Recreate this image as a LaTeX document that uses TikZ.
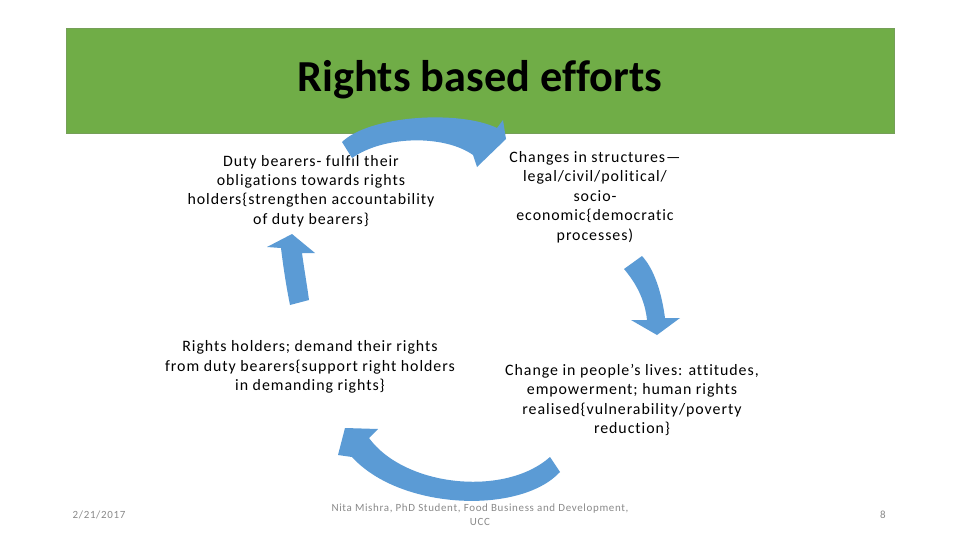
\documentclass[tikz,border=0pt]{standalone}
\usepackage{fontspec}
\setmainfont{Carlito}[Ligatures=NoCommon]
\newfontfamily\spacedfont{Carlito}[Ligatures=NoCommon, LetterSpace=6]
\usepackage{tikz}
\definecolor{bargreen}{HTML}{70AD47}
\definecolor{arrowblue}{HTML}{5B9BD5}
\definecolor{footgray}{HTML}{898989}
\tikzset{
  boxtext/.style={align=center, inner sep=0pt, font=\spacedfont\fontsize{11.3}{13.8}\selectfont},
  foottext/.style={align=center, inner sep=0pt, text=footgray, font=\spacedfont\fontsize{7.8}{10}\selectfont},
  cyclearrow/.style={fill=arrowblue, draw=none}
}
\begin{document}
\begin{tikzpicture}[x=0.025cm,y=-0.025cm]
  \useasboundingbox (0,0) rectangle (960,540);
  % title banner
  \fill[bargreen, draw=bargreen!70!gray, line width=0.6pt] (66,28) rectangle (894,133);
  \node[inner sep=0pt, font=\fontsize{31.5}{36}\selectfont\bfseries] (title) at (480,80) {Rights based efforts};
  % the four statements
  \node[boxtext] (duty) at (311,191) {Duty bearers- fulfil their\\obligations towards rights\\holders\{strengthen accountability\\of duty bearers\}};
  \node[boxtext] (struct) at (595,197) {Changes in structures—\\legal/civil/political/\\socio-\\economic\{democratic\\processes)};
  \node[boxtext] (holders) at (310,367) {Rights holders; demand their rights\\from duty bearers\{support right holders\\in demanding rights\}};
  \node[boxtext] (lives) at (632,400) {Change in people’s lives: attitudes,\\empowerment; human rights\\realised\{vulnerability/poverty\\reduction\}};
  % curved arrows, drawn over the text
  \fill[cyclearrow] (342,142) .. controls (370,115) and (460,110) .. (497,128)
    -- (503,120) -- (506,139) -- (477,167) -- (473,155)
    .. controls (445,135) and (385,135) .. (352,158) -- cycle;
  \fill[cyclearrow] (624,269) .. controls (636,283) and (645,300) .. (647,320)
    -- (631,320) -- (657,335) -- (680,318) -- (665,318)
    .. controls (662,295) and (655,270) .. (642,256) -- cycle;
  \fill[cyclearrow] (560,472) .. controls (520,515) and (400,510) .. (352,457)
    -- (338,455) -- (345,428) -- (378,429) -- (369,438)
    .. controls (405,487) and (505,497) .. (550,457) -- cycle;
  \fill[cyclearrow] (290,305) .. controls (286,285) and (283,265) .. (281,248)
    -- (267,247) -- (292,234) -- (315,253) -- (302,253)
    .. controls (304,268) and (307,285) .. (309,300) -- cycle;
  % footer
  \node[foottext] (date) at (99,515) {2/21/2017};
  \node[foottext] (author) at (480,515) {Nita Mishra, PhD Student, Food Business and Development,\\UCC};
  \node[foottext] (page) at (883,515) {8};
\end{tikzpicture}
\end{document}
